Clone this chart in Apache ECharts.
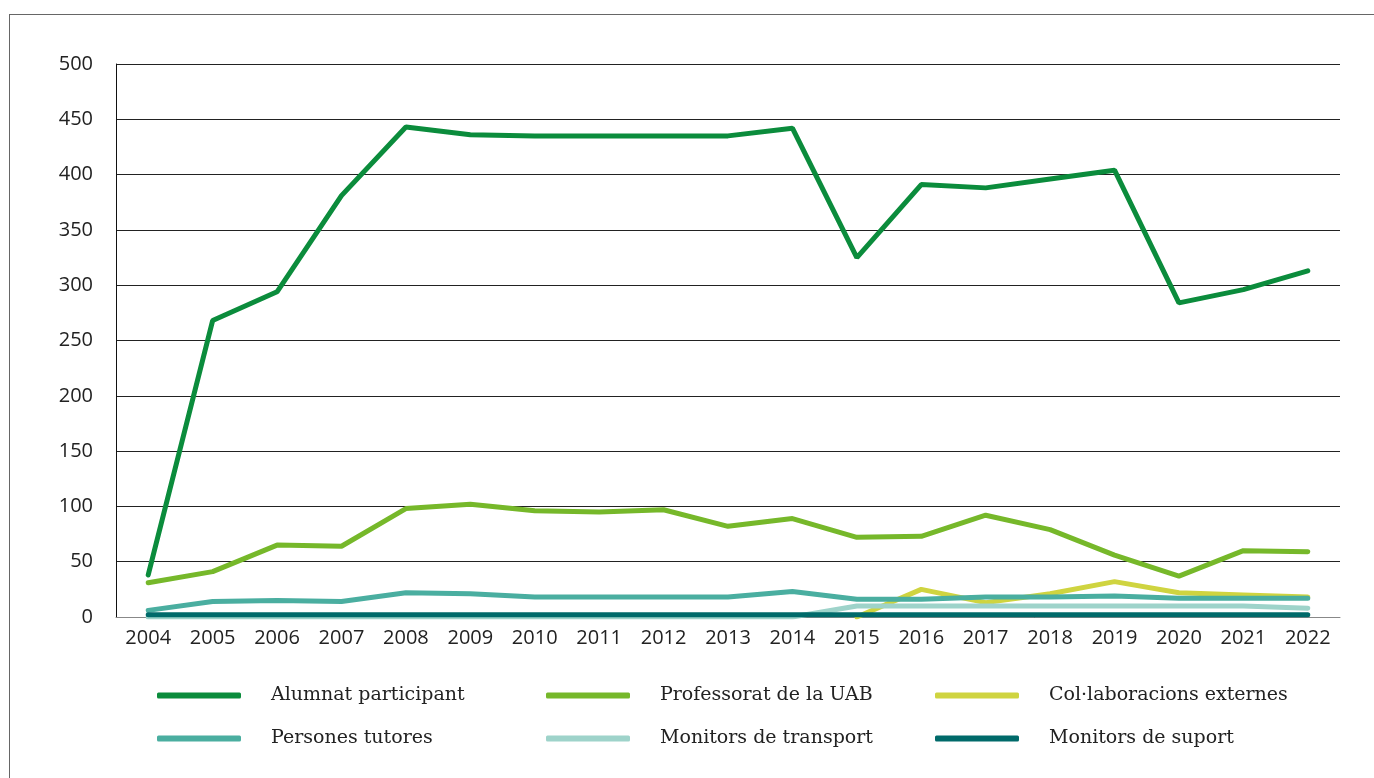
<!DOCTYPE html>
<html>
<head>
<meta charset="utf-8">
<script src="https://cdn.jsdelivr.net/npm/echarts@6/dist/echarts.min.js"></script>
<style>
html,body{margin:0;padding:0;background:#fff;}
#frame{position:absolute;left:9px;top:14px;width:1400px;height:800px;border:1px solid #666;box-sizing:border-box;}
#chart{position:absolute;left:0;top:0;width:1374px;height:778px;}
</style>
</head>
<body>
<div id="frame"></div>
<div id="chart"></div>
<script>
const years = ['2004','2005','2006','2007','2008','2009','2010','2011','2012','2013','2014','2015','2016','2017','2018','2019','2020','2021','2022'];
const alumnat = [38,268,294,381,443,436,435,435,435,435,442,325,391,388,396,404,284,296,313];
const professorat = [31,41,65,64,98,102,96,95,97,82,89,72,73,92,79,56,37,60,59];
const collaboracions = [null,null,null,null,null,null,null,null,null,null,null,0,25,13,21,32,22,20,18];
const tutores = [6,14,15,14,22,21,18,18,18,18,23,16,16,18,18,19,17,17,17];
const transport = [0,0,0,0,0,0,0,0,0,0,0,10,10,10,10,10,10,10,8];
const suport = [2,2,2,2,2,2,2,2,2,2,2,2,2,2,2,2,2,2,2];
const yTicks = [0,50,100,150,200,250,300,350,400,450,500];

const names = ['Alumnat participant','Professorat de la UAB','Col·laboracions externes','Persones tutores','Monitors de transport','Monitors de suport'];
const colors = ['#0b8c3c','#76b82a','#cfd440','#4aaea0','#9ed3ca','#006a6a'];
const datas = [alumnat, professorat, collaboracions, tutores, transport, suport];

const chart = echarts.init(document.getElementById('chart'));
const legendText = {fontFamily:'DejaVu Serif', fontSize:19, color:'#222', padding:[0,0,0,25]};
function legend(left, items){
  return {left:left, top:681, orient:'vertical', itemGap:24, itemWidth:84, itemHeight:6, icon:'roundRect',
    data:items, textStyle:legendText, selectedMode:false};
}
chart.setOption({
  animation:false,
  grid:{left:116, right:34, top:64, bottom:161},
  legend:[legend(152,[names[0],names[3]]), legend(541,[names[1],names[4]]), legend(930,[names[2],names[5]])],
  xAxis:{type:'category', data:years, boundaryGap:true,
    axisLine:{lineStyle:{color:'#888', width:1}}, axisTick:{show:false},
    axisLabel:{fontFamily:'Open Sans', fontSize:20, color:'#222', margin:11}},
  yAxis:{type:'value', min:0, max:500, interval:50,
    axisLine:{show:true, lineStyle:{color:'#111', width:1}}, axisTick:{show:false},
    splitLine:{lineStyle:{color:'#222', width:1}},
    axisLabel:{fontFamily:'Open Sans', fontSize:20, color:'#222', margin:23,
      formatter:function(v){return yTicks.indexOf(v)>=0?String(v):'';}}},
  series: names.map((n,i)=>({name:n, type:'line', data:datas[i], showSymbol:false, symbol:'none',
    lineStyle:{color:colors[i], width:5, cap:'round'}, itemStyle:{color:colors[i]}, z:2+i}))
});
</script>
</body>
</html>
